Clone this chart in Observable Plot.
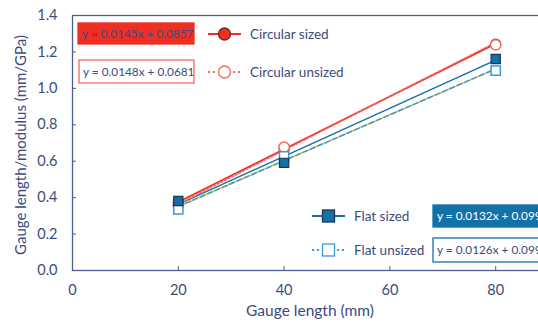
<!DOCTYPE html>
<html>
<head>
<meta charset="utf-8">
<script src="https://cdn.jsdelivr.net/npm/d3@7"></script>
<script src="https://cdn.jsdelivr.net/npm/@observablehq/plot@0.6"></script>
<style>
  html, body { margin: 0; padding: 0; background: #fff; overflow: hidden; }
  #chart { width: 538px; height: 329px; overflow: hidden; }
  #chart svg { max-width: none !important; }
</style>
</head>
<body>
<div id="chart"></div>
<script>
// ---- data ----
const gaugeLength = [20, 40, 80];
const seriesNames = ["Circular sized", "Circular unsized", "Flat sized", "Flat unsized"];
const circularSized = [0.376, 0.666, 1.243];
const circularUnsized = [0.36, 0.677, 1.239];
const flatSized = [0.382, 0.591, 1.161];
const flatUnsized = [0.336, 0.626, 1.097];
const slopes = [0.0145, 0.0148, 0.0132, 0.0126];
const intercepts = [0.0857, 0.0681, 0.0991, 0.0992];
const equationLabels = ["y = 0.0145x + 0.0857", "y = 0.0148x + 0.0681", "y = 0.0132x + 0.0991", "y = 0.0126x + 0.0992"];
const xTicks = [0, 20, 40, 60, 80];
const yTicks = [0, 0.2, 0.4, 0.6, 0.8, 1.0, 1.2, 1.4];
const xTitle = "Gauge length (mm)";
const yTitle = "Gauge length/modulus (mm/GPa)";

// ---- tables ----
const seriesValues = [circularSized, circularUnsized, flatSized, flatUnsized];
const points = seriesNames.flatMap((s, i) => gaugeLength.map((g, j) => ({series: s, x: g, y: seriesValues[i][j]})));
const xMin = d3.min(gaugeLength), xMax = d3.max(gaugeLength);
const trends = seriesNames.flatMap((s, i) => [xMin, xMax].map(x => ({series: s, x, y: slopes[i] * x + intercepts[i]})));
const of = name => d => d.series === name;

const ink = "#3b4b7c";
const axisInk = "#4e5d90";
const red = "#ee3024";
const redLight = "#f26a62";
const blue = "#1272a8";
const blueLight = "#3a9ad2";
const font = "Lato, 'Open Sans', sans-serif";

const plot = Plot.plot({
  width: 604,
  height: 329,
  marginLeft: 72,
  marginRight: 3,
  marginTop: 15,
  marginBottom: 59,
  style: {fontFamily: font, fontSize: "14px", color: ink, background: "white", overflow: "visible", maxWidth: "none"},
  x: {domain: [0, 100], ticks: xTicks},
  y: {domain: [0, 1.4], ticks: yTicks},
  marks: [
    Plot.frame({stroke: axisInk, strokeWidth: 1.3}),
    // inward ticks
    Plot.axisX({ticks: xTicks.filter(t => t > 0), tickSize: -4, stroke: axisInk, text: null, label: null}),
    Plot.axisY({ticks: yTicks.filter(t => t > 0 && t < 1.4), tickSize: -4, stroke: axisInk, text: null, label: null}),
    // tick labels
    Plot.axisX({ticks: xTicks, tickSize: 0, tickPadding: 14, fill: ink, fontSize: 14.5, label: null}),
    Plot.axisY({ticks: yTicks, tickSize: 0, tickPadding: 15, fill: ink, fontSize: 14.5, tickFormat: d3.format(".1f"), label: null}),
    // axis titles
    Plot.text([xTitle], {text: d => d, frameAnchor: "bottom", dx: -27, dy: 45, fill: ink, fontSize: 15.5}),
    Plot.text([yTitle], {text: d => d, frameAnchor: "left", textAnchor: "middle", dx: -51, dy: 2, rotate: -90, fill: ink, fontSize: 15}),
    // trend lines
    Plot.line(trends.filter(of("Flat unsized")), {x: "x", y: "y", stroke: "#f2c12e", strokeWidth: 1.5}),
    Plot.line(trends.filter(of("Flat unsized")), {x: "x", y: "y", stroke: blueLight, strokeWidth: 1.5, strokeDasharray: "5,3"}),
    Plot.line(trends.filter(of("Flat sized")), {x: "x", y: "y", stroke: blue, strokeWidth: 1.5}),
    Plot.line(trends.filter(of("Circular sized")), {x: "x", y: "y", stroke: red, strokeWidth: 1.8}),
    Plot.line(trends.filter(of("Circular unsized")), {x: "x", y: "y", stroke: redLight, strokeWidth: 1.5, strokeDasharray: "2,2"}),
    // markers
    Plot.dot(points.filter(of("Circular sized")), {x: "x", y: "y", r: 5, fill: red, stroke: "#6a2a2a", strokeWidth: 1.2}),
    Plot.dot(points.filter(of("Circular unsized")), {x: "x", y: "y", r: 5.2, fill: "white", stroke: redLight, strokeWidth: 1.5}),
    Plot.dot(points.filter(of("Flat unsized")), {x: "x", y: "y", symbol: "square", r: 5.2, fill: "white", stroke: blueLight, strokeWidth: 1.5}),
    Plot.dot(points.filter(of("Flat sized")), {x: "x", y: "y", symbol: "square", r: 5.2, fill: blue, stroke: "#1b3556", strokeWidth: 1.2})
  ]
});

plot.style.maxWidth = "none";
plot.style.height = "329px";
plot.style.width = "604px";
document.getElementById("chart").appendChild(plot);

// ---- legend & equation boxes (layout in pixels) ----
const svg = d3.select(plot);
const g = svg.append("g").style("font-family", font).attr("text-anchor", "start");

function legendItem(x0, y, name, kind) {
  const it = g.append("g");
  const isCirc = kind.startsWith("circ");
  const filled = !kind.endsWith("unsized");
  const col = isCirc ? (filled ? red : redLight) : (filled ? blue : blueLight);
  it.append("line").attr("x1", x0).attr("x2", x0 + 33).attr("y1", y).attr("y2", y)
    .attr("stroke", col).attr("stroke-width", 1.8).attr("stroke-dasharray", filled ? null : "2,3");
  const cx = x0 + 16.5;
  if (isCirc) {
    it.append("circle").attr("cx", cx).attr("cy", y).attr("r", 6)
      .attr("fill", filled ? red : "white").attr("stroke", filled ? "#6a2a2a" : redLight).attr("stroke-width", 1.3);
  } else {
    it.append("rect").attr("x", cx - 6).attr("y", y - 6).attr("width", 12).attr("height", 12)
      .attr("fill", filled ? blue : "white").attr("stroke", filled ? "#1b3556" : blueLight).attr("stroke-width", 1.3);
  }
  it.append("text").attr("x", x0 + 42).attr("y", y).attr("dy", "0.35em").attr("text-anchor", "start")
    .attr("fill", ink).style("font-size", "13.5px").text(name);
}
legendItem(208, 34, seriesNames[0], "circ-sized");
legendItem(208, 72, seriesNames[1], "circ-unsized");
legendItem(312, 216, seriesNames[2], "flat-sized");
legendItem(312, 250, seriesNames[3], "flat-unsized");

function eqBox(x, y, w, h, label, fill, stroke, textFill) {
  g.append("rect").attr("x", x).attr("y", y).attr("width", w).attr("height", h)
    .attr("fill", fill).attr("stroke", stroke).attr("stroke-width", 1.3);
  g.append("text").attr("x", x + 4).attr("y", y + h / 2).attr("dy", "0.35em").attr("text-anchor", "start")
    .attr("fill", textFill).style("font-size", "11.8px").text(label);
}
eqBox(78, 23, 116, 21, equationLabels[0], red, red, ink);
eqBox(79, 60, 115, 23, equationLabels[1], "white", redLight, ink);
eqBox(433, 205, 130, 22, equationLabels[2], blue, blue, "white");
eqBox(433, 238, 130, 24, equationLabels[3], "white", blue, ink);
</script>
</body>
</html>
